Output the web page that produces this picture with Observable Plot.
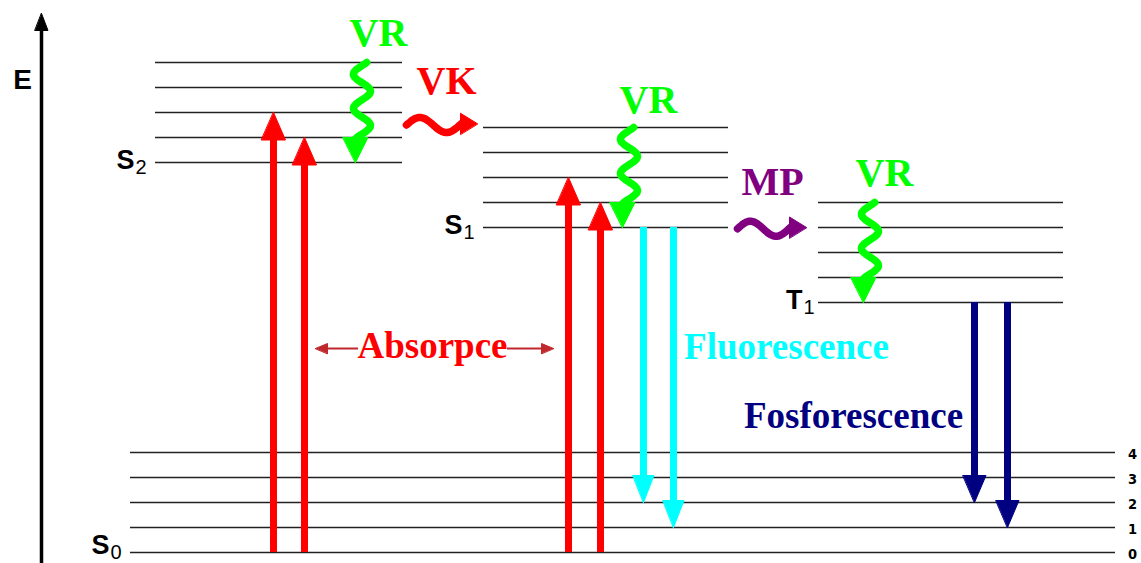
<!DOCTYPE html>
<html><head><meta charset="utf-8">
<script src="https://cdn.jsdelivr.net/npm/d3@7"></script>
<script src="https://cdn.jsdelivr.net/npm/@observablehq/plot@0.6"></script>
<style>html,body{margin:0;padding:0;background:#fff;overflow:hidden}#chart svg{display:block;overflow:visible}</style>
</head><body><div id="chart"></div>
<script>
// ---------------- data ----------------
// electronic states (energy of v = 0 in vibrational quanta, horizontal extent of the stack)
const states       = ["S0", "S2", "S1", "T1"];
const stateLetter  = ["S", "S", "S", "T"];
const stateSub     = ["0", "2", "1", "1"];
const stateEnergy  = [0, 15.6, 13, 10];
const stateLeft    = [130, 155, 483, 818];
const stateRight   = [1115, 402, 728, 1063];
const vibLevels    = [0, 1, 2, 3, 4];
const vibTickLabels = ["0", "1", "2", "3", "4"];

// radiative transitions (straight arrows)
const radKind  = ["Absorpce", "Absorpce", "Absorpce", "Absorpce", "Fluorescence", "Fluorescence", "Fosforescence", "Fosforescence"];
const radX     = [273, 304, 568, 600, 643, 673, 974, 1007];
const radFrom  = ["S0", "S0", "S0", "S0", "S1", "S1", "T1", "T1"];
const radFromV = [0, 0, 0, 0, 0, 0, 0, 0];
const radTo    = ["S2", "S2", "S1", "S1", "S0", "S0", "S0", "S0"];
const radToV   = [2, 1, 2, 1, 2, 1, 2, 1];

// vibrational relaxation (vertical wavy arrows, from v = 4 down to v = 0)
const vrState = ["S2", "S1", "T1"];
const vrX     = [355, 622, 863];

// non-radiative crossings (horizontal wavy arrows)
const nrKind  = ["VK", "MP"];
const nrFromX = [406, 737];
const nrToX   = [477, 806];
const nrE     = [17.1, 12.95];

// labels
const annText = ["VR", "VR", "VR", "VK", "MP", "Absorpce", "Fluorescence", "Fosforescence"];
const annX    = [378, 648, 884, 446, 772, 432, 786, 853];
const annE    = [20.78, 18.08, 15.16, 18.86, 14.8, 8.24, 8.2, 5.44];
const absPointerFrom = [358, 507];
const absPointerTo   = [315, 553];
const absPointerE    = 8.16;

// ---------------- style ----------------
const kindColor = {
  Absorpce: "#ff0000", Fluorescence: "#00ffff", Fosforescence: "#000080",
  VR: "#00ff00", VK: "#ff0000", MP: "#800080"
};
const levelColor = "#222";

// ---------------- derived geometry ----------------
const E = (s, v) => stateEnergy[states.indexOf(s)] + v;

const levels = [];
states.forEach((s, i) => vibLevels.forEach(v =>
  levels.push({x1: stateLeft[i], x2: stateRight[i], y: stateEnergy[i] + v})));

const shafts = [], heads = [];
function head(id, tipX, tipY, dx, dy, halfW, color) {
  heads.push({id, x: tipX, y: tipY, color});
  heads.push({id, x: tipX - dx + halfW[0], y: tipY - dy + halfW[1], color});
  heads.push({id, x: tipX - dx - halfW[0], y: tipY - dy - halfW[1], color});
}
radX.forEach((x, i) => {
  const y1 = E(radFrom[i], radFromV[i]), y2 = E(radTo[i], radToV[i]);
  const dir = Math.sign(y2 - y1);
  const kind = radKind[i];
  const hl = kind === "Absorpce" ? 1.1 : 1.08;
  const hw = kind === "Absorpce" ? 12 : (kind === "Fluorescence" ? 10.5 : 11.5);
  shafts.push({x, y1, y2: y2 - dir * (hl - 0.1), color: kindColor[kind]});
  head("r" + i, x, y2, 0, dir * hl, [hw, 0], kindColor[kind]);
});

// E axis
const axisShaft = [{x: 41, y1: -0.44, y2: 20.95}];
head("E", 41, 21.56, 0, 0.68, [6.5, 0], "#000");

// wavy vertical arrows
const waves = [];
vrState.forEach((s, k) => {
  const top = E(s, 4), tip = E(s, 0), hl = 0.95;
  const base = tip + hl, A = 8.5, n = 2.23, th0 = 2.56;
  const cx = vrX[k] - A * Math.sin(th0 + 2 * Math.PI * n);
  const N = 80;
  for (let j = 0; j <= N; j++) {
    const t = j / N;
    waves.push({id: "vr" + k, x: cx + A * Math.sin(th0 + 2 * Math.PI * n * t), y: top + (base - top) * t, color: kindColor.VR});
  }
  const endX = cx + A * Math.sin(th0 + 2 * Math.PI * n);
  head("vr" + k, endX, tip, 0, -hl - 0.05, [12.5, 0], kindColor.VR);
});
// wavy horizontal arrows
nrKind.forEach((kind, k) => {
  const x0 = nrFromX[k], tipX = nrToX[k], hl = 17, base = tipX - hl;
  const A = 0.3, N = 60;
  for (let j = 0; j <= N; j++) {
    const t = j / N;
    waves.push({id: "nr" + k, x: x0 + (base + 2 - x0) * t, y: nrE[k] + A * Math.sin(2 * Math.PI * 1.05 * t), color: kindColor[kind]});
  }
  head("nr" + k, tipX, nrE[k] + 0.05, hl, 0, [0, 0.42], kindColor[kind]);
});

// Absorpce pointers
const pointers = [];
absPointerFrom.forEach((x, i) => {
  const to = absPointerTo[i], dir = Math.sign(to - x);
  pointers.push({x1: x, x2: to - dir * 8, y: absPointerE});
  head("ap" + i, to, absPointerE, dir * 12, 0, [0, 0.2], "#c0282d");
});

const ann = annText.map((t, i) => ({
  text: t, x: annX[i], y: annE[i],
  color: kindColor[t === "VR" ? "VR" : t],
  size: i < 5 ? 40 : 37
}));

// state labels; the ground-state label is nudged up a little so it stays inside the frame
const stateLabels = states.map((s, i) => ({
  letter: stateLetter[i], sub: stateSub[i],
  x: stateLeft[i] - (stateLetter[i] === "T" ? 16 : 21),
  y: stateEnergy[i] + (i === 0 ? 0.2 : 0)
}));

const vibLabels = vibLevels.map((v, i) => ({text: vibTickLabels[i], x: 1132, y: v}));

// ---------------- plot ----------------
const serif = "'Liberation Serif', 'Times New Roman', serif";
const sans = "'Liberation Sans', Arial, sans-serif";
const chart = Plot.plot({
  width: 1141, height: 563,
  margin: 0,
  x: {domain: [0, 1141], axis: null},
  y: {domain: [-0.44, 22.08], axis: null},
  color: {type: "identity"},
  marks: [
    Plot.ruleY(levels, {y: "y", x1: "x1", x2: "x2", stroke: levelColor, strokeWidth: 1.7}),
    Plot.ruleX(axisShaft, {x: "x", y1: "y1", y2: "y2", stroke: "#000", strokeWidth: 3.5}),
    Plot.ruleX(shafts, {x: "x", y1: "y1", y2: "y2", stroke: "color", strokeWidth: 7}),
    Plot.line(waves, {x: "x", y: "y", z: "id", stroke: "color", strokeWidth: 7.5, curve: "natural", strokeLinejoin: "round"}),
    Plot.ruleY(pointers, {y: "y", x1: "x1", x2: "x2", stroke: "#c0282d", strokeWidth: 2}),
    Plot.line(heads, {x: "x", y: "y", z: "id", fill: "color", stroke: "color", strokeWidth: 1, curve: "linear-closed"}),
    Plot.text(ann, {x: "x", y: "y", text: "text", fill: "color", fontSize: "size", fontWeight: "bold", fontFamily: serif}),
    Plot.text([{x: 22, y: 18.88}], {x: "x", y: "y", text: () => "E", fontSize: 28, fontWeight: "bold", fontFamily: sans, fill: "#000"}),
    Plot.text(stateLabels, {x: "x", y: "y", text: "letter", textAnchor: "end", dy: -2, fontSize: 27, fontWeight: "bold", fontFamily: sans, fill: "#000"}),
    Plot.text(stateLabels, {x: "x", y: "y", text: "sub", textAnchor: "start", dx: 1, dy: 5, fontSize: 20, fontFamily: sans, fill: "#000"}),
    Plot.text(vibLabels, {x: "x", y: "y", text: "text", dy: 2, fontSize: 14.5, fontWeight: "bold", fontFamily: "'Liberation Sans Narrow', 'DejaVu Sans Condensed', sans-serif", fill: "#000"})
  ]
});
document.getElementById("chart").appendChild(chart);
</script>
</body></html>
